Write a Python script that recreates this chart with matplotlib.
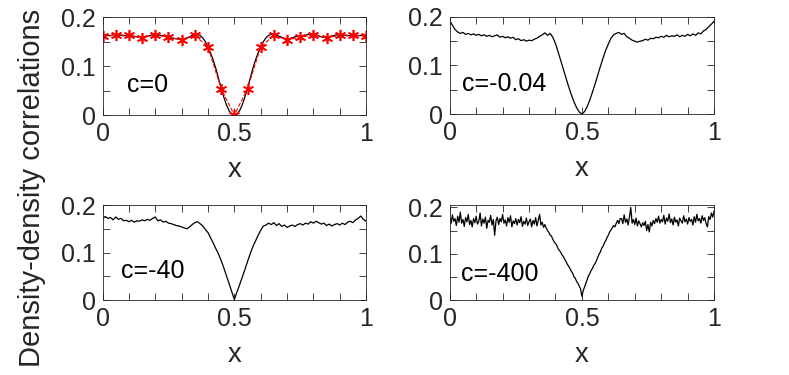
import numpy as np
import matplotlib
matplotlib.use("Agg")
import matplotlib.pyplot as plt

plt.rcParams["font.family"] = ["Liberation Sans", "DejaVu Sans"]

# x grids
x_fine = np.linspace(0, 1, 101)
x_noisy = np.linspace(0, 1, 201)
x_stars = np.linspace(0, 1, 21)

labels = ["c=0", "c=-0.04", "c=-40", "c=-400"]

# c=0, numerical curve
y_c0 = [
    0.160, 0.162, 0.163, 0.162, 0.164, 0.165, 0.164, 0.163, 0.162, 0.163,
    0.163, 0.162, 0.161, 0.160, 0.159, 0.158, 0.159, 0.161, 0.163, 0.164,
    0.165, 0.164, 0.163, 0.162, 0.160, 0.159, 0.158, 0.157, 0.156, 0.155,
    0.154, 0.155, 0.157, 0.160, 0.163, 0.164, 0.165, 0.163, 0.158, 0.150,
    0.139, 0.127, 0.112, 0.095, 0.075, 0.055, 0.037, 0.021, 0.009, 0.002,
    0.000,
    0.002, 0.009, 0.021, 0.037, 0.055, 0.075, 0.095, 0.112, 0.127,
    0.139, 0.150, 0.158, 0.163, 0.165, 0.164, 0.163, 0.161, 0.159, 0.157,
    0.155, 0.156, 0.158, 0.160, 0.161, 0.160, 0.161, 0.163, 0.165, 0.166,
    0.165, 0.164, 0.162, 0.160, 0.159, 0.159, 0.160, 0.161, 0.163, 0.164,
    0.163, 0.164, 0.163, 0.162, 0.163, 0.164, 0.163, 0.162, 0.163, 0.162,
    0.161,
]

# c=0, exact result (red stars)
y_c0_exact = [
    0.161, 0.164, 0.163, 0.158, 0.164, 0.159, 0.154, 0.163, 0.139, 0.054,
    0.000,
    0.054, 0.139, 0.163, 0.154, 0.159, 0.164, 0.158, 0.163, 0.164, 0.161,
]

# c=-0.04
y_c004 = [
    0.192, 0.183, 0.174, 0.169, 0.166, 0.168, 0.164, 0.166, 0.163, 0.165,
    0.162, 0.164, 0.161, 0.163, 0.160, 0.162, 0.159, 0.161, 0.163, 0.158,
    0.160, 0.157, 0.159, 0.156, 0.158, 0.153, 0.155, 0.151, 0.153, 0.150,
    0.152, 0.151, 0.154, 0.156, 0.160, 0.163, 0.167, 0.162, 0.166, 0.158,
    0.145, 0.128, 0.110, 0.092, 0.074, 0.056, 0.040, 0.025, 0.013, 0.004,
    0.000,
    0.005, 0.015, 0.029, 0.045, 0.062, 0.080, 0.098, 0.115, 0.131,
    0.144, 0.156, 0.163, 0.166, 0.168, 0.164, 0.166, 0.159, 0.156, 0.152,
    0.150, 0.148, 0.150, 0.151, 0.154, 0.152, 0.156, 0.155, 0.158, 0.157,
    0.160, 0.158, 0.162, 0.159, 0.161, 0.160, 0.163, 0.159, 0.162, 0.160,
    0.164, 0.161, 0.165, 0.162, 0.167, 0.165, 0.171, 0.174, 0.180, 0.185,
    0.191,
]

# c=-40
y_c40 = [
    0.171, 0.176, 0.172, 0.174, 0.169, 0.175, 0.170, 0.172, 0.167, 0.168,
    0.165, 0.168, 0.164, 0.167, 0.166, 0.169, 0.167, 0.170, 0.168, 0.172,
    0.175, 0.167, 0.169, 0.164, 0.166, 0.162, 0.161, 0.159, 0.157, 0.156,
    0.154, 0.152, 0.150, 0.154, 0.159, 0.163, 0.165, 0.161, 0.156, 0.149,
    0.142, 0.131, 0.120, 0.108, 0.097, 0.083, 0.068, 0.051, 0.035, 0.018,
    0.001,
    0.017, 0.032, 0.048, 0.064, 0.081, 0.097, 0.112, 0.124, 0.136,
    0.147, 0.156, 0.158, 0.162, 0.159, 0.163, 0.157, 0.161, 0.155, 0.158,
    0.153, 0.156, 0.158, 0.155, 0.159, 0.161, 0.158, 0.162, 0.160, 0.165,
    0.162, 0.166, 0.163, 0.160, 0.162, 0.157, 0.160, 0.156, 0.159, 0.161,
    0.158, 0.162, 0.159, 0.164, 0.166, 0.163, 0.169, 0.172, 0.177, 0.170,
    0.166,
]

# c=-400
y_c400 = [
    0.178, 0.165, 0.184, 0.170, 0.176, 0.161, 0.181, 0.168, 0.190, 0.166,
    0.174, 0.159, 0.178, 0.169, 0.185, 0.163, 0.172, 0.158, 0.176, 0.167,
    0.181, 0.164, 0.170, 0.188, 0.160, 0.175, 0.166, 0.179, 0.155, 0.172,
    0.168, 0.183, 0.162, 0.174, 0.140, 0.171, 0.179, 0.163, 0.176, 0.169,
    0.185, 0.166, 0.173, 0.160, 0.178, 0.168, 0.182, 0.158, 0.171, 0.165,
    0.176, 0.162, 0.174, 0.167, 0.180, 0.159, 0.170, 0.164, 0.177, 0.161,
    0.169, 0.175, 0.158, 0.172, 0.164, 0.178, 0.160, 0.173, 0.185, 0.162,
    0.168, 0.157, 0.163, 0.155, 0.150, 0.146, 0.140, 0.138, 0.131, 0.126,
    0.122, 0.118, 0.111, 0.107, 0.103, 0.097, 0.094, 0.088, 0.083, 0.077,
    0.073, 0.068, 0.062, 0.058, 0.050, 0.047, 0.040, 0.036, 0.030, 0.024,
    0.008, 0.020, 0.028, 0.036, 0.044, 0.052, 0.057, 0.064, 0.068, 0.075,
    0.079, 0.085, 0.092, 0.099, 0.104, 0.112, 0.116, 0.123, 0.128, 0.135,
    0.140, 0.147, 0.151, 0.156, 0.161, 0.158, 0.166, 0.172, 0.165, 0.176,
    0.176, 0.165, 0.184, 0.168, 0.175, 0.162, 0.180, 0.200, 0.166, 0.174,
    0.163, 0.177, 0.160, 0.171, 0.165, 0.158, 0.167, 0.161, 0.170, 0.150,
    0.163, 0.147, 0.168, 0.160, 0.172, 0.165, 0.176, 0.168, 0.181, 0.166,
    0.174, 0.169, 0.183, 0.164, 0.177, 0.170, 0.186, 0.167, 0.175, 0.162,
    0.179, 0.168, 0.173, 0.160, 0.177, 0.171, 0.166, 0.182, 0.169, 0.175,
    0.164, 0.178, 0.170, 0.174, 0.162, 0.180, 0.168, 0.185, 0.171, 0.176,
    0.166, 0.182, 0.172, 0.178, 0.165, 0.158, 0.180, 0.174, 0.188, 0.179,
    0.192,
]

fig = plt.figure(figsize=(7.89, 3.75), dpi=100)

# axes boxes [left, bottom, width, height] in figure fractions
boxes = [
    [0.130, 0.693, 0.334, 0.261],
    [0.570, 0.696, 0.335, 0.259],
    [0.130, 0.200, 0.334, 0.253],
    [0.570, 0.200, 0.335, 0.253],
]
ytops = [0.2, 0.2, 0.2, 0.205]
curves = [(x_fine, y_c0), (x_fine, y_c004), (x_fine, y_c40), (x_noisy, y_c400)]
text_pos = [(0.093, 0.047), (0.048, 0.047), (0.071, 0.046), (0.044, 0.042)]

axc = "#262626"
for i in range(4):
    ax = fig.add_axes(boxes[i])
    xs, ys = curves[i]
    ax.plot(xs, ys, color="black", lw=0.9)
    if i == 0:
        # asterisk markers like matlab '*'
        ax.plot(x_stars, y_c0_exact, color="red", ls="--", lw=0.8,
                marker=(6, 2, 0), ms=8, mew=1.2)
    ax.set_xlim(0, 1)
    ax.set_ylim(0, ytops[i])
    ax.set_xticks(np.linspace(0, 1, 11))
    ax.set_xticklabels(["0", "", "", "", "", "0.5", "", "", "", "", "1"])
    ax.set_yticks([0, 0.05, 0.1, 0.15, 0.2])
    ax.set_yticklabels(["0", "", "0.1", "", "0.2"])
    ax.tick_params(direction="in", top=True, right=True, length=5, width=0.6,
                   labelsize=18, colors=axc, pad=5)
    for s in ax.spines.values():
        s.set_color(axc)
        s.set_linewidth(0.6)
    ax.set_xlabel("x", fontsize=19.8, color=axc, labelpad=8)
    ax.text(text_pos[i][0], text_pos[i][1], labels[i], fontsize=18,
            color="black", va="baseline", ha="left")

fig.text(0.041, 0.5, "Density-density correlations", rotation=90,
         ha="center", va="center", fontsize=21, color=axc)

fig.savefig("out.png", dpi=100)
